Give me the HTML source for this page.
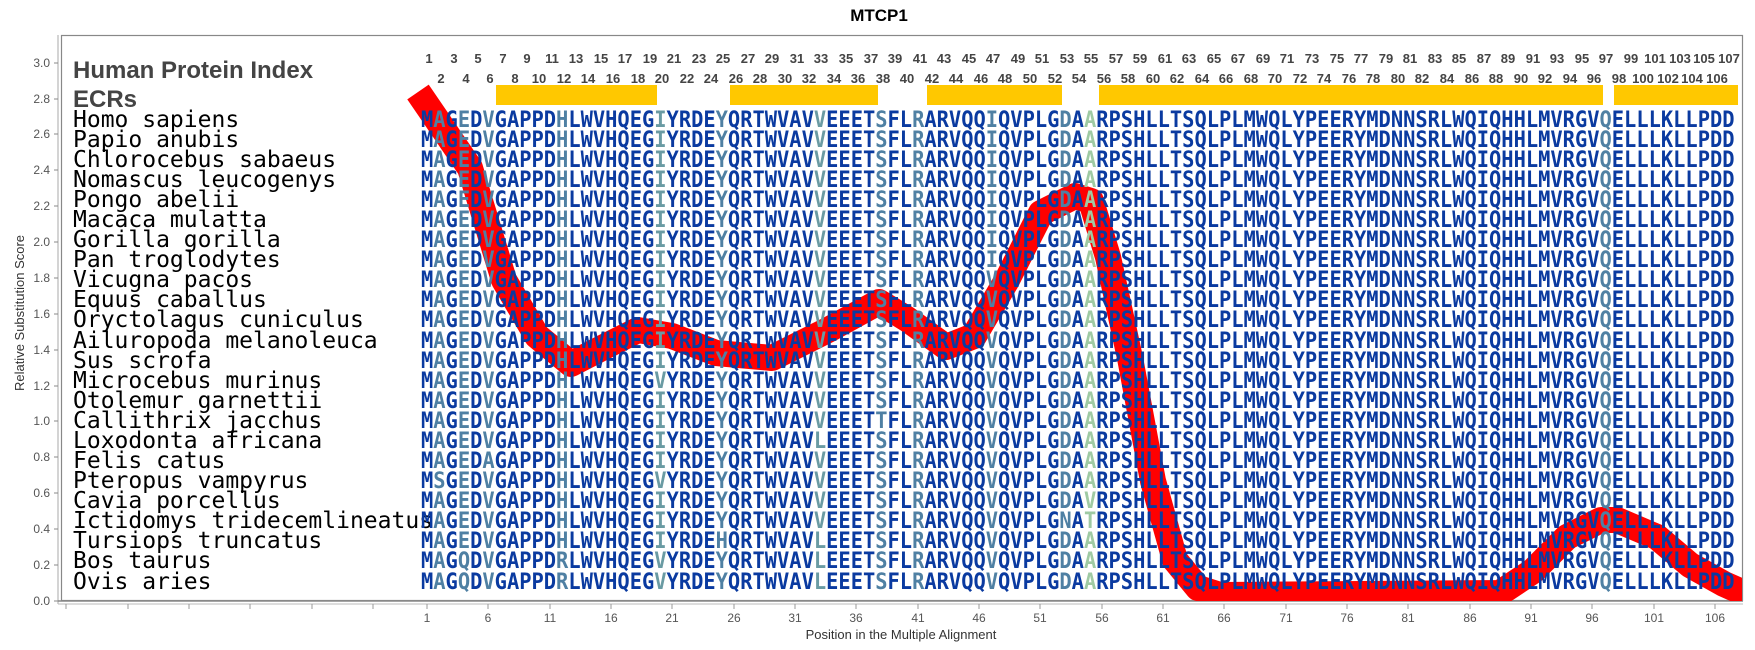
<!DOCTYPE html>
<html><head><meta charset="utf-8">
<style>
html,body{margin:0;padding:0;background:#fff;}
svg{display:block;}
.sp{font-family:"DejaVu Sans Mono","Liberation Mono",monospace;font-size:23px;fill:#000;}
.seq{font-family:"DejaVu Sans Mono","Liberation Mono",monospace;font-weight:bold;font-size:20.4px;fill:#0a3aa0;}
.l{fill:#4f80a3;}
.t{fill:#6a9ba3;}
.g{fill:#9fcaa3;}
.num{font-family:"Liberation Sans",sans-serif;font-weight:bold;font-size:13px;fill:#444;text-anchor:middle;}
.tk{font-family:"Liberation Sans",sans-serif;font-size:12px;fill:#555;}
</style></head><body>
<svg width="1755" height="650" viewBox="0 0 1755 650" xmlns="http://www.w3.org/2000/svg">
<text x="879" y="21" text-anchor="middle" font-family="Liberation Sans,sans-serif" font-weight="bold" font-size="17" fill="#000">MTCP1</text>
<!-- frame -->
<rect x="61.5" y="35.5" width="1681" height="565" fill="#fff" stroke="#888" stroke-width="1.2"/>
<line x1="58" y1="35" x2="58" y2="604" stroke="#aaa" stroke-width="1"/>
<line x1="58" y1="601" x2="1743" y2="601" stroke="#888" stroke-width="1.5"/>
<line x1="58" y1="604" x2="1743" y2="604" stroke="#bbb" stroke-width="1"/>
<!-- y ticks -->
<g class="tk" text-anchor="end">
<text x="50" y="605">0.0</text><text x="50" y="569">0.2</text><text x="50" y="533">0.4</text><text x="50" y="497">0.6</text><text x="50" y="461">0.8</text><text x="50" y="425">1.0</text><text x="50" y="390">1.2</text><text x="50" y="354">1.4</text><text x="50" y="318">1.6</text><text x="50" y="282">1.8</text><text x="50" y="246">2.0</text><text x="50" y="210">2.2</text><text x="50" y="174">2.4</text><text x="50" y="138">2.6</text><text x="50" y="103">2.8</text><text x="50" y="67">3.0</text>
</g>
<g stroke="#888" stroke-width="1">
<line x1="54" y1="601" x2="58" y2="601"/><line x1="54" y1="565" x2="58" y2="565"/><line x1="54" y1="529" x2="58" y2="529"/><line x1="54" y1="493" x2="58" y2="493"/><line x1="54" y1="457" x2="58" y2="457"/><line x1="54" y1="421" x2="58" y2="421"/><line x1="54" y1="386" x2="58" y2="386"/><line x1="54" y1="350" x2="58" y2="350"/><line x1="54" y1="314" x2="58" y2="314"/><line x1="54" y1="278" x2="58" y2="278"/><line x1="54" y1="242" x2="58" y2="242"/><line x1="54" y1="206" x2="58" y2="206"/><line x1="54" y1="170" x2="58" y2="170"/><line x1="54" y1="134" x2="58" y2="134"/><line x1="54" y1="99" x2="58" y2="99"/><line x1="54" y1="63" x2="58" y2="63"/>
</g>
<text transform="translate(24,313) rotate(-90)" text-anchor="middle" font-family="Liberation Sans,sans-serif" font-size="13" fill="#333">Relative Substitution Score</text>
<!-- x ticks -->
<g stroke="#999" stroke-width="1">
<line x1="66" y1="604" x2="66" y2="609"/><line x1="128" y1="604" x2="128" y2="609"/><line x1="189" y1="604" x2="189" y2="609"/><line x1="250" y1="604" x2="250" y2="609"/><line x1="312" y1="604" x2="312" y2="609"/><line x1="373" y1="604" x2="373" y2="609"/>
<line x1="427" y1="604" x2="427" y2="609"/><line x1="488" y1="604" x2="488" y2="609"/><line x1="550" y1="604" x2="550" y2="609"/><line x1="611" y1="604" x2="611" y2="609"/><line x1="672" y1="604" x2="672" y2="609"/><line x1="734" y1="604" x2="734" y2="609"/><line x1="795" y1="604" x2="795" y2="609"/><line x1="856" y1="604" x2="856" y2="609"/><line x1="918" y1="604" x2="918" y2="609"/><line x1="979" y1="604" x2="979" y2="609"/><line x1="1040" y1="604" x2="1040" y2="609"/><line x1="1102" y1="604" x2="1102" y2="609"/><line x1="1163" y1="604" x2="1163" y2="609"/><line x1="1224" y1="604" x2="1224" y2="609"/><line x1="1286" y1="604" x2="1286" y2="609"/><line x1="1347" y1="604" x2="1347" y2="609"/><line x1="1408" y1="604" x2="1408" y2="609"/><line x1="1470" y1="604" x2="1470" y2="609"/><line x1="1531" y1="604" x2="1531" y2="609"/><line x1="1592" y1="604" x2="1592" y2="609"/><line x1="1654" y1="604" x2="1654" y2="609"/><line x1="1715" y1="604" x2="1715" y2="609"/>
</g>
<g class="tk" text-anchor="middle">
<text x="427" y="622">1</text><text x="488" y="622">6</text><text x="550" y="622">11</text><text x="611" y="622">16</text><text x="672" y="622">21</text><text x="734" y="622">26</text><text x="795" y="622">31</text><text x="856" y="622">36</text><text x="918" y="622">41</text><text x="979" y="622">46</text><text x="1040" y="622">51</text><text x="1102" y="622">56</text><text x="1163" y="622">61</text><text x="1224" y="622">66</text><text x="1286" y="622">71</text><text x="1347" y="622">76</text><text x="1408" y="622">81</text><text x="1470" y="622">86</text><text x="1531" y="622">91</text><text x="1592" y="622">96</text><text x="1654" y="622">101</text><text x="1715" y="622">106</text>
</g>
<text x="901" y="639" text-anchor="middle" font-family="Liberation Sans,sans-serif" font-size="13" fill="#333">Position in the Multiple Alignment</text>

<!-- headers -->
<text x="73" y="78" font-family="Liberation Sans,sans-serif" font-weight="bold" font-size="24" fill="#444">Human Protein Index</text>
<text x="73" y="107" font-family="Liberation Sans,sans-serif" font-weight="bold" font-size="24" fill="#444">ECRs</text>
<g class="num">
<text x="429" y="63">1</text><text x="454" y="63">3</text><text x="478" y="63">5</text><text x="503" y="63">7</text><text x="527" y="63">9</text><text x="552" y="63">11</text><text x="576" y="63">13</text><text x="601" y="63">15</text><text x="625" y="63">17</text><text x="650" y="63">19</text><text x="674" y="63">21</text><text x="699" y="63">23</text><text x="723" y="63">25</text><text x="748" y="63">27</text><text x="772" y="63">29</text><text x="797" y="63">31</text><text x="821" y="63">33</text><text x="846" y="63">35</text><text x="871" y="63">37</text><text x="895" y="63">39</text><text x="920" y="63">41</text><text x="944" y="63">43</text><text x="969" y="63">45</text><text x="993" y="63">47</text><text x="1018" y="63">49</text><text x="1042" y="63">51</text><text x="1067" y="63">53</text><text x="1091" y="63">55</text><text x="1116" y="63">57</text><text x="1140" y="63">59</text><text x="1165" y="63">61</text><text x="1189" y="63">63</text><text x="1214" y="63">65</text><text x="1238" y="63">67</text><text x="1263" y="63">69</text><text x="1287" y="63">71</text><text x="1312" y="63">73</text><text x="1337" y="63">75</text><text x="1361" y="63">77</text><text x="1386" y="63">79</text><text x="1410" y="63">81</text><text x="1435" y="63">83</text><text x="1459" y="63">85</text><text x="1484" y="63">87</text><text x="1508" y="63">89</text><text x="1533" y="63">91</text><text x="1557" y="63">93</text><text x="1582" y="63">95</text><text x="1606" y="63">97</text><text x="1631" y="63">99</text><text x="1655" y="63">101</text><text x="1680" y="63">103</text><text x="1704" y="63">105</text><text x="1729" y="63">107</text>
<text x="441" y="83">2</text><text x="466" y="83">4</text><text x="490" y="83">6</text><text x="515" y="83">8</text><text x="539" y="83">10</text><text x="564" y="83">12</text><text x="588" y="83">14</text><text x="613" y="83">16</text><text x="638" y="83">18</text><text x="662" y="83">20</text><text x="687" y="83">22</text><text x="711" y="83">24</text><text x="736" y="83">26</text><text x="760" y="83">28</text><text x="785" y="83">30</text><text x="809" y="83">32</text><text x="834" y="83">34</text><text x="858" y="83">36</text><text x="883" y="83">38</text><text x="907" y="83">40</text><text x="932" y="83">42</text><text x="956" y="83">44</text><text x="981" y="83">46</text><text x="1005" y="83">48</text><text x="1030" y="83">50</text><text x="1055" y="83">52</text><text x="1079" y="83">54</text><text x="1104" y="83">56</text><text x="1128" y="83">58</text><text x="1153" y="83">60</text><text x="1177" y="83">62</text><text x="1202" y="83">64</text><text x="1226" y="83">66</text><text x="1251" y="83">68</text><text x="1275" y="83">70</text><text x="1300" y="83">72</text><text x="1324" y="83">74</text><text x="1349" y="83">76</text><text x="1373" y="83">78</text><text x="1398" y="83">80</text><text x="1422" y="83">82</text><text x="1447" y="83">84</text><text x="1472" y="83">86</text><text x="1496" y="83">88</text><text x="1521" y="83">90</text><text x="1545" y="83">92</text><text x="1570" y="83">94</text><text x="1594" y="83">96</text><text x="1619" y="83">98</text><text x="1643" y="83">100</text><text x="1668" y="83">102</text><text x="1692" y="83">104</text><text x="1717" y="83">106</text>
</g>
<!-- ECR bars -->
<g fill="#ffc800">
<rect x="496" y="85" width="161" height="20"/>
<rect x="730" y="85" width="148" height="20"/>
<rect x="927" y="85" width="135" height="20"/>
<rect x="1099" y="85" width="504" height="20"/>
<rect x="1614" y="85" width="124" height="20"/>
</g>
<!-- red line -->
<clipPath id="c"><rect x="62" y="36" width="1680" height="565"/></clipPath>
<polyline clip-path="url(#c)" fill="none" stroke="#ff0000" stroke-width="26" stroke-linejoin="round" points="418,92 470,168 504,280 537,336 571,364 604,347 638,330 672,336 716,353 772,358 828,330 879,302 907,319 946,347 974,336 1007,280 1041,213 1075,196 1091,201 1108,257 1130,358 1153,481 1175,560 1198,588 1220,595 1500,593 1533,571 1567,537 1601,520 1617,520 1657,537 1690,565 1724,584 1760,600"/>
<!-- species -->
<g class="sp">
<text x="73" y="127">Homo sapiens</text>
<text x="73" y="147">Papio anubis</text>
<text x="73" y="167">Chlorocebus sabaeus</text>
<text x="73" y="187">Nomascus leucogenys</text>
<text x="73" y="207">Pongo abelii</text>
<text x="73" y="227">Macaca mulatta</text>
<text x="73" y="247">Gorilla gorilla</text>
<text x="73" y="267">Pan troglodytes</text>
<text x="73" y="287">Vicugna pacos</text>
<text x="73" y="307">Equus caballus</text>
<text x="73" y="327">Oryctolagus cuniculus</text>
<text x="73" y="348">Ailuropoda melanoleuca</text>
<text x="73" y="368">Sus scrofa</text>
<text x="73" y="388">Microcebus murinus</text>
<text x="73" y="408">Otolemur garnettii</text>
<text x="73" y="428">Callithrix jacchus</text>
<text x="73" y="448">Loxodonta africana</text>
<text x="73" y="468">Felis catus</text>
<text x="73" y="488">Pteropus vampyrus</text>
<text x="73" y="508">Cavia porcellus</text>
<text x="73" y="528">Ictidomys tridecemlineatus</text>
<text x="73" y="548">Tursiops truncatus</text>
<text x="73" y="568">Bos taurus</text>
<text x="73" y="589">Ovis aries</text>
</g>
<g class="seq">
<text x="421" y="127" transform="translate(0,-10) scale(1,1.08)">M<tspan class="l">A</tspan>G<tspan class="l">E</tspan>D<tspan class="l">V</tspan>GAPPD<tspan class="l">H</tspan>LWVHQEG<tspan class="t">I</tspan>YRDE<tspan class="l">Y</tspan>QRTWVAV<tspan class="t">V</tspan>EEET<tspan class="l">S</tspan>FL<tspan class="l">R</tspan>ARVQQ<tspan class="l">I</tspan>QVPLG<tspan class="l">D</tspan>A<tspan class="g">A</tspan>RPSHLLTSQLPLMWQLYPEERYMDNNSRLWQIQHHLMVRGV<tspan class="l">Q</tspan>ELLLKLLPDD</text>
<text x="421" y="147" transform="translate(0,-11.7) scale(1,1.08)">M<tspan class="l">A</tspan>G<tspan class="l">E</tspan>D<tspan class="l">V</tspan>GAPPD<tspan class="l">H</tspan>LWVHQEG<tspan class="t">I</tspan>YRDE<tspan class="l">Y</tspan>QRTWVAV<tspan class="t">V</tspan>EEET<tspan class="l">S</tspan>FL<tspan class="l">R</tspan>ARVQQ<tspan class="l">I</tspan>QVPLG<tspan class="l">D</tspan>A<tspan class="g">A</tspan>RPSHLLTSQLPLMWQLYPEERYMDNNSRLWQIQHHLMVRGV<tspan class="l">Q</tspan>ELLLKLLPDD</text>
<text x="421" y="167" transform="translate(0,-13.3) scale(1,1.08)">M<tspan class="l">A</tspan>G<tspan class="l">E</tspan>D<tspan class="l">V</tspan>GAPPD<tspan class="l">H</tspan>LWVHQEG<tspan class="t">I</tspan>YRDE<tspan class="l">Y</tspan>QRTWVAV<tspan class="t">V</tspan>EEET<tspan class="l">S</tspan>FL<tspan class="l">R</tspan>ARVQQ<tspan class="l">I</tspan>QVPLG<tspan class="l">D</tspan>A<tspan class="g">A</tspan>RPSHLLTSQLPLMWQLYPEERYMDNNSRLWQIQHHLMVRGV<tspan class="l">Q</tspan>ELLLKLLPDD</text>
<text x="421" y="187" transform="translate(0,-14.9) scale(1,1.08)">M<tspan class="l">A</tspan>G<tspan class="l">E</tspan>D<tspan class="l">V</tspan>GAPPD<tspan class="l">H</tspan>LWVHQEG<tspan class="t">I</tspan>YRDE<tspan class="l">Y</tspan>QRTWVAV<tspan class="t">V</tspan>EEET<tspan class="l">S</tspan>FL<tspan class="l">R</tspan>ARVQQ<tspan class="l">I</tspan>QVPLG<tspan class="l">D</tspan>A<tspan class="g">A</tspan>RPSHLLTSQLPLMWQLYPEERYMDNNSRLWQIQHHLMVRGV<tspan class="l">Q</tspan>ELLLKLLPDD</text>
<text x="421" y="207" transform="translate(0,-16.5) scale(1,1.08)">M<tspan class="l">A</tspan>G<tspan class="l">E</tspan>D<tspan class="l">V</tspan>GAPPD<tspan class="l">H</tspan>LWVHQEG<tspan class="t">I</tspan>YRDE<tspan class="l">Y</tspan>QRTWVAV<tspan class="t">V</tspan>EEET<tspan class="l">S</tspan>FL<tspan class="l">R</tspan>ARVQQ<tspan class="l">I</tspan>QVPLG<tspan class="l">D</tspan>A<tspan class="g">A</tspan>RPSHLLTSQLPLMWQLYPEERYMDNNSRLWQIQHHLMVRGV<tspan class="l">Q</tspan>ELLLKLLPDD</text>
<text x="421" y="227" transform="translate(0,-18.1) scale(1,1.08)">M<tspan class="l">A</tspan>G<tspan class="l">E</tspan>D<tspan class="l">V</tspan>GAPPD<tspan class="l">H</tspan>LWVHQEG<tspan class="t">I</tspan>YRDE<tspan class="l">Y</tspan>QRTWVAV<tspan class="t">V</tspan>EEET<tspan class="l">S</tspan>FL<tspan class="l">R</tspan>ARVQQ<tspan class="l">I</tspan>QVPLG<tspan class="l">D</tspan>A<tspan class="g">A</tspan>RPSHLLTSQLPLMWQLYPEERYMDNNSRLWQIQHHLMVRGV<tspan class="l">Q</tspan>ELLLKLLPDD</text>
<text x="421" y="247" transform="translate(0,-19.7) scale(1,1.08)">M<tspan class="l">A</tspan>G<tspan class="l">E</tspan>D<tspan class="l">V</tspan>GAPPD<tspan class="l">H</tspan>LWVHQEG<tspan class="t">I</tspan>YRDE<tspan class="l">Y</tspan>QRTWVAV<tspan class="t">V</tspan>EEET<tspan class="l">S</tspan>FL<tspan class="l">R</tspan>ARVQQ<tspan class="l">I</tspan>QVPLG<tspan class="l">D</tspan>A<tspan class="g">A</tspan>RPSHLLTSQLPLMWQLYPEERYMDNNSRLWQIQHHLMVRGV<tspan class="l">Q</tspan>ELLLKLLPDD</text>
<text x="421" y="267" transform="translate(0,-21.3) scale(1,1.08)">M<tspan class="l">A</tspan>G<tspan class="l">E</tspan>D<tspan class="l">V</tspan>GAPPD<tspan class="l">H</tspan>LWVHQEG<tspan class="t">I</tspan>YRDE<tspan class="l">Y</tspan>QRTWVAV<tspan class="t">V</tspan>EEET<tspan class="l">S</tspan>FL<tspan class="l">R</tspan>ARVQQ<tspan class="l">I</tspan>QVPLG<tspan class="l">D</tspan>A<tspan class="g">A</tspan>RPSHLLTSQLPLMWQLYPEERYMDNNSRLWQIQHHLMVRGV<tspan class="l">Q</tspan>ELLLKLLPDD</text>
<text x="421" y="287" transform="translate(0,-23) scale(1,1.08)">M<tspan class="l">A</tspan>G<tspan class="l">E</tspan>D<tspan class="l">V</tspan>GAPPD<tspan class="l">H</tspan>LWVHQEG<tspan class="t">I</tspan>YRDE<tspan class="l">Y</tspan>QRTWVAV<tspan class="t">V</tspan>EEET<tspan class="l">S</tspan>FL<tspan class="l">R</tspan>ARVQQ<tspan class="l">V</tspan>QVPLG<tspan class="l">D</tspan>A<tspan class="g">A</tspan>RPSHLLTSQLPLMWQLYPEERYMDNNSRLWQIQHHLMVRGV<tspan class="l">Q</tspan>ELLLKLLPDD</text>
<text x="421" y="307" transform="translate(0,-24.6) scale(1,1.08)">M<tspan class="l">A</tspan>G<tspan class="l">E</tspan>D<tspan class="l">V</tspan>GAPPD<tspan class="l">H</tspan>LWVHQEG<tspan class="t">I</tspan>YRDE<tspan class="l">Y</tspan>QRTWVAV<tspan class="t">V</tspan>EEET<tspan class="l">S</tspan>FL<tspan class="l">R</tspan>ARVQQ<tspan class="l">V</tspan>QVPLG<tspan class="l">D</tspan>A<tspan class="g">A</tspan>RPSHLLTSQLPLMWQLYPEERYMDNNSRLWQIQHHLMVRGV<tspan class="l">Q</tspan>ELLLKLLPDD</text>
<text x="421" y="327" transform="translate(0,-26.2) scale(1,1.08)">M<tspan class="l">A</tspan>G<tspan class="l">E</tspan>D<tspan class="l">V</tspan>GAPPD<tspan class="l">H</tspan>LWVHQEG<tspan class="t">I</tspan>YRDE<tspan class="l">Y</tspan>QRTWVAV<tspan class="t">V</tspan>EEET<tspan class="l">S</tspan>FL<tspan class="l">R</tspan>ARVQQ<tspan class="l">V</tspan>QVPLG<tspan class="l">D</tspan>A<tspan class="g">A</tspan>RPSHLLTSQLPLMWQLYPEERYMDNNSRLWQIQHHLMVRGV<tspan class="l">Q</tspan>ELLLKLLPDD</text>
<text x="421" y="348" transform="translate(0,-27.8) scale(1,1.08)">M<tspan class="l">A</tspan>G<tspan class="l">E</tspan>D<tspan class="l">V</tspan>GAPPD<tspan class="l">H</tspan>LWVHQEG<tspan class="t">I</tspan>YRDE<tspan class="l">Y</tspan>QRTWVAV<tspan class="t">V</tspan>EEET<tspan class="l">S</tspan>FL<tspan class="l">R</tspan>ARVQQ<tspan class="l">V</tspan>QVPLG<tspan class="l">D</tspan>A<tspan class="g">A</tspan>RPSHLLTSQLPLMWQLYPEERYMDNNSRLWQIQHHLMVRGV<tspan class="l">Q</tspan>ELLLKLLPDD</text>
<text x="421" y="368" transform="translate(0,-29.4) scale(1,1.08)">M<tspan class="l">A</tspan>G<tspan class="l">E</tspan>D<tspan class="l">V</tspan>GAPPD<tspan class="l">H</tspan>LWVHQEG<tspan class="t">I</tspan>YRDE<tspan class="l">Y</tspan>QRTWVAV<tspan class="t">V</tspan>EEET<tspan class="l">S</tspan>FL<tspan class="l">R</tspan>ARVQQ<tspan class="l">V</tspan>QVPLG<tspan class="l">D</tspan>A<tspan class="g">A</tspan>RPSHLLTSQLPLMWQLYPEERYMDNNSRLWQIQHHLMVRGV<tspan class="l">Q</tspan>ELLLKLLPDD</text>
<text x="421" y="388" transform="translate(0,-31) scale(1,1.08)">M<tspan class="l">A</tspan>G<tspan class="l">E</tspan>D<tspan class="l">V</tspan>GAPPD<tspan class="l">H</tspan>LWVHQEG<tspan class="t">V</tspan>YRDE<tspan class="l">Y</tspan>QRTWVAV<tspan class="t">V</tspan>EEET<tspan class="l">S</tspan>FL<tspan class="l">R</tspan>ARVQQ<tspan class="l">V</tspan>QVPLG<tspan class="l">D</tspan>A<tspan class="g">A</tspan>RPSHLLTSQLPLMWQLYPEERYMDNNSRLWQIQHHLMVRGV<tspan class="l">Q</tspan>ELLLKLLPDD</text>
<text x="421" y="408" transform="translate(0,-32.6) scale(1,1.08)">M<tspan class="l">A</tspan>G<tspan class="l">E</tspan>D<tspan class="l">V</tspan>GAPPD<tspan class="l">H</tspan>LWVHQEG<tspan class="t">I</tspan>YRDE<tspan class="l">Y</tspan>QRTWVAV<tspan class="t">V</tspan>EEET<tspan class="l">S</tspan>FL<tspan class="l">R</tspan>ARVQQ<tspan class="l">V</tspan>QVPLG<tspan class="l">D</tspan>A<tspan class="g">A</tspan>RPSHLLTSQLPLMWQLYPEERYMDNNSRLWQIQHHLMVRGV<tspan class="l">Q</tspan>ELLLKLLPDD</text>
<text x="421" y="428" transform="translate(0,-34.2) scale(1,1.08)">M<tspan class="l">A</tspan>G<tspan class="l">E</tspan>D<tspan class="l">V</tspan>GAPPD<tspan class="l">H</tspan>LWVHQEG<tspan class="t">I</tspan>YRDE<tspan class="l">Y</tspan>QRTWVAV<tspan class="t">V</tspan>EEET<tspan class="l">T</tspan>FL<tspan class="l">R</tspan>ARVQQ<tspan class="l">V</tspan>QVPLG<tspan class="l">D</tspan>A<tspan class="g">A</tspan>RPSHLLTSQLPLMWQLYPEERYMDNNSRLWQIQHHLMVRGV<tspan class="l">Q</tspan>ELLLKLLPDD</text>
<text x="421" y="448" transform="translate(0,-35.8) scale(1,1.08)">M<tspan class="l">A</tspan>G<tspan class="l">E</tspan>D<tspan class="l">V</tspan>GAPPD<tspan class="l">H</tspan>LWVHQEG<tspan class="t">I</tspan>YRDE<tspan class="l">Y</tspan>QRTWVAV<tspan class="t">L</tspan>EEET<tspan class="l">S</tspan>FL<tspan class="l">R</tspan>ARVQQ<tspan class="l">V</tspan>QVPLG<tspan class="l">D</tspan>A<tspan class="g">A</tspan>RPSHLLTSQLPLMWQLYPEERYMDNNSRLWQIQHHLMVRGV<tspan class="l">Q</tspan>ELLLKLLPDD</text>
<text x="421" y="468" transform="translate(0,-37.4) scale(1,1.08)">M<tspan class="l">A</tspan>G<tspan class="l">E</tspan>D<tspan class="l">A</tspan>GAPPD<tspan class="l">H</tspan>LWVHQEG<tspan class="t">I</tspan>YRDE<tspan class="l">Y</tspan>QRTWVAV<tspan class="t">V</tspan>EEET<tspan class="l">S</tspan>FL<tspan class="l">R</tspan>ARVQQ<tspan class="l">V</tspan>QVPLG<tspan class="l">D</tspan>A<tspan class="g">A</tspan>RPSHLLTSQLPLMWQLYPEERYMDNNSRLWQIQHHLMVRGV<tspan class="l">Q</tspan>ELLLKLLPDD</text>
<text x="421" y="488" transform="translate(0,-39) scale(1,1.08)">M<tspan class="l">S</tspan>G<tspan class="l">E</tspan>D<tspan class="l">V</tspan>GAPPD<tspan class="l">H</tspan>LWVHQEG<tspan class="t">V</tspan>YRDE<tspan class="l">Y</tspan>QRTWVAV<tspan class="t">V</tspan>EEET<tspan class="l">S</tspan>FL<tspan class="l">R</tspan>ARVQQ<tspan class="l">V</tspan>QVPLG<tspan class="l">D</tspan>A<tspan class="g">A</tspan>RPSHLLTSQLPLMWQLYPEERYMDNNSRLWQIQHHLMVRGV<tspan class="l">Q</tspan>ELLLKLLPDD</text>
<text x="421" y="508" transform="translate(0,-40.6) scale(1,1.08)">M<tspan class="l">A</tspan>G<tspan class="l">E</tspan>D<tspan class="l">V</tspan>GAPPD<tspan class="l">H</tspan>LWVHQEG<tspan class="t">I</tspan>YRDE<tspan class="l">Y</tspan>QRTWVAV<tspan class="t">V</tspan>EEET<tspan class="l">S</tspan>FL<tspan class="l">R</tspan>ARVQQ<tspan class="l">V</tspan>QVPLG<tspan class="l">D</tspan>A<tspan class="g">V</tspan>RPSHLLTSQLPLMWQLYPEERYMDNNSRLWQIQHHLMVRGV<tspan class="l">Q</tspan>ELLLKLLPDD</text>
<text x="421" y="528" transform="translate(0,-42.2) scale(1,1.08)">M<tspan class="l">A</tspan>G<tspan class="l">E</tspan>D<tspan class="l">V</tspan>GAPPD<tspan class="l">H</tspan>LWVHQEG<tspan class="t">I</tspan>YRDE<tspan class="l">Y</tspan>QRTWVAV<tspan class="t">V</tspan>EEET<tspan class="l">S</tspan>FL<tspan class="l">R</tspan>ARVQQ<tspan class="l">V</tspan>QVPLG<tspan class="l">N</tspan>A<tspan class="g">T</tspan>RPSHLLTSQLPLMWQLYPEERYMDNNSRLWQIQHHLMVRGV<tspan class="l">Q</tspan>ELLLKLLPDD</text>
<text x="421" y="548" transform="translate(0,-43.8) scale(1,1.08)">M<tspan class="l">A</tspan>G<tspan class="l">E</tspan>D<tspan class="l">V</tspan>GAPPD<tspan class="l">H</tspan>LWVHQEG<tspan class="t">I</tspan>YRDE<tspan class="l">H</tspan>QRTWVAV<tspan class="t">L</tspan>EEET<tspan class="l">S</tspan>FL<tspan class="l">R</tspan>ARVQQ<tspan class="l">V</tspan>QVPLG<tspan class="l">D</tspan>A<tspan class="g">A</tspan>RPSHLLTSQLPLMWQLYPEERYMDNNSRLWQIQHHLMVRGV<tspan class="l">Q</tspan>ELLLKLLPDD</text>
<text x="421" y="568" transform="translate(0,-45.4) scale(1,1.08)">M<tspan class="l">A</tspan>G<tspan class="l">Q</tspan>D<tspan class="l">V</tspan>GAPPD<tspan class="l">R</tspan>LWVHQEG<tspan class="t">V</tspan>YRDE<tspan class="l">Y</tspan>QRTWVAV<tspan class="t">L</tspan>EEET<tspan class="l">S</tspan>FL<tspan class="l">R</tspan>ARVQQ<tspan class="l">V</tspan>QVPLG<tspan class="l">D</tspan>A<tspan class="g">A</tspan>RPSHLLTSQLPLMWQLYPEERYMDNNSRLWQIQHHLMVRGV<tspan class="l">Q</tspan>ELLLKLLPDD</text>
<text x="421" y="589" transform="translate(0,-47.1) scale(1,1.08)">M<tspan class="l">A</tspan>G<tspan class="l">Q</tspan>D<tspan class="l">V</tspan>GAPPD<tspan class="l">R</tspan>LWVHQEG<tspan class="t">V</tspan>YRDE<tspan class="l">Y</tspan>QRTWVAV<tspan class="t">L</tspan>EEET<tspan class="l">S</tspan>FL<tspan class="l">R</tspan>ARVQQ<tspan class="l">V</tspan>QVPLG<tspan class="l">D</tspan>A<tspan class="g">A</tspan>RPSHLLTSQLPLMWQLYPEERYMDNNSRLWQIQHHLMVRGV<tspan class="l">Q</tspan>ELLLKLLPDD</text>
</g>
</svg>
</body></html>
